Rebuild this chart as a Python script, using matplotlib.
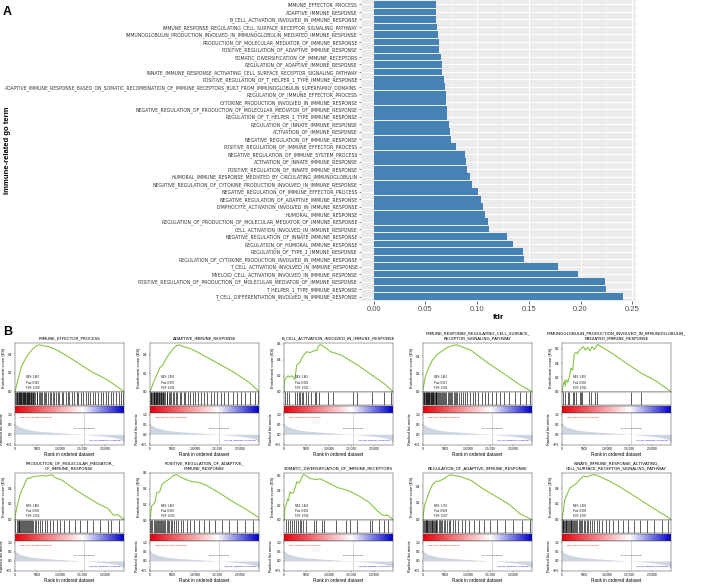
import matplotlib
matplotlib.use('Agg')
import matplotlib.pyplot as plt
import numpy as np
from matplotlib import font_manager as fm
from matplotlib.colors import LinearSegmentedColormap

# ---- panel A data ----
go_terms = [
    "IMMUNE_EFFECTOR_PROCESS",
    "ADAPTIVE_IMMUNE_RESPONSE",
    "B_CELL_ACTIVATION_INVOLVED_IN_IMMUNE_RESPONSE",
    "IMMUNE_RESPONSE_REGULATING_CELL_SURFACE_RECEPTOR_SIGNALING_PATHWAY",
    "IMMUNOGLOBULIN_PRODUCTION_INVOLVED_IN_IMMUNOGLOBULIN_MEDIATED_IMMUNE_RESPONSE",
    "PRODUCTION_OF_MOLECULAR_MEDIATOR_OF_IMMUNE_RESPONSE",
    "POSITIVE_REGULATION_OF_ADAPTIVE_IMMUNE_RESPONSE",
    "SOMATIC_DIVERSIFICATION_OF_IMMUNE_RECEPTORS",
    "REGULATION_OF_ADAPTIVE_IMMUNE_RESPONSE",
    "INNATE_IMMUNE_RESPONSE_ACTIVATING_CELL_SURFACE_RECEPTOR_SIGNALING_PATHWAY",
    "POSITIVE_REGULATION_OF_T_HELPER_1_TYPE_IMMUNE_RESPONSE",
    "ADAPTIVE_IMMUNE_RESPONSE_BASED_ON_SOMATIC_RECOMBINATION_OF_IMMUNE_RECEPTORS_BUILT_FROM_IMMUNOGLOBULIN_SUPERFAMILY_DOMAINS",
    "REGULATION_OF_IMMUNE_EFFECTOR_PROCESS",
    "CYTOKINE_PRODUCTION_INVOLVED_IN_IMMUNE_RESPONSE",
    "NEGATIVE_REGULATION_OF_PRODUCTION_OF_MOLECULAR_MEDIATOR_OF_IMMUNE_RESPONSE",
    "REGULATION_OF_T_HELPER_1_TYPE_IMMUNE_RESPONSE",
    "REGULATION_OF_INNATE_IMMUNE_RESPONSE",
    "ACTIVATION_OF_IMMUNE_RESPONSE",
    "NEGATIVE_REGULATION_OF_IMMUNE_RESPONSE",
    "POSITIVE_REGULATION_OF_IMMUNE_EFFECTOR_PROCESS",
    "NEGATIVE_REGULATION_OF_IMMUNE_SYSTEM_PROCESS",
    "ACTIVATION_OF_INNATE_IMMUNE_RESPONSE",
    "POSITIVE_REGULATION_OF_INNATE_IMMUNE_RESPONSE",
    "HUMORAL_IMMUNE_RESPONSE_MEDIATED_BY_CIRCULATING_IMMUNOGLOBULIN",
    "NEGATIVE_REGULATION_OF_CYTOKINE_PRODUCTION_INVOLVED_IN_IMMUNE_RESPONSE",
    "NEGATIVE_REGULATION_OF_IMMUNE_EFFECTOR_PROCESS",
    "NEGATIVE_REGULATION_OF_ADAPTIVE_IMMUNE_RESPONSE",
    "LYMPHOCYTE_ACTIVATION_INVOLVED_IN_IMMUNE_RESPONSE",
    "HUMORAL_IMMUNE_RESPONSE",
    "REGULATION_OF_PRODUCTION_OF_MOLECULAR_MEDIATOR_OF_IMMUNE_RESPONSE",
    "CELL_ACTIVATION_INVOLVED_IN_IMMUNE_RESPONSE",
    "NEGATIVE_REGULATION_OF_INNATE_IMMUNE_RESPONSE",
    "REGULATION_OF_HUMORAL_IMMUNE_RESPONSE",
    "REGULATION_OF_TYPE_2_IMMUNE_RESPONSE",
    "REGULATION_OF_CYTOKINE_PRODUCTION_INVOLVED_IN_IMMUNE_RESPONSE",
    "T_CELL_ACTIVATION_INVOLVED_IN_IMMUNE_RESPONSE",
    "MYELOID_CELL_ACTIVATION_INVOLVED_IN_IMMUNE_RESPONSE",
    "POSITIVE_REGULATION_OF_PRODUCTION_OF_MOLECULAR_MEDIATOR_OF_IMMUNE_RESPONSE",
    "T_HELPER_1_TYPE_IMMUNE_RESPONSE",
    "T_CELL_DIFFERENTIATION_INVOLVED_IN_IMMUNE_RESPONSE",
]
fdr = [0.060, 0.0603, 0.0606, 0.0614, 0.0620, 0.0630, 0.0636, 0.0652, 0.0660, 0.0665,
       0.0680, 0.0687, 0.0700, 0.0702, 0.0706, 0.0710, 0.0725, 0.0735, 0.0744, 0.0800,
       0.0880, 0.0895, 0.0902, 0.0935, 0.0950, 0.1010, 0.1040, 0.1060, 0.1080, 0.1110,
       0.1120, 0.1290, 0.1350, 0.1440, 0.1450, 0.1780, 0.1975, 0.2236, 0.2250, 0.2415]

# ---- panel B data (ranks in units of 100 genes) ----
n_genes = 243
zero_rank = 154.72
metric_rank = [0, 3, 10, 20, 35, 50, 75, 100, 125, 154.72, 180, 205, 225, 235, 243]
metric_val = [0.62, 0.48, 0.38, 0.30, 0.22, 0.17, 0.12, 0.08, 0.04, 0.0, -0.05, -0.11, -0.18, -0.25, -0.40]

gsea_titles = [
    "IMMUNE_EFFECTOR_PROCESS",
    "ADAPTIVE_IMMUNE_RESPONSE",
    "B_CELL_ACTIVATION_INVOLVED_IN_IMMUNE_RESPONSE",
    "IMMUNE_RESPONSE_REGULATING_CELL_SURFACE_\nRECEPTOR_SIGNALING_PATHWAY",
    "IMMUNOGLOBULIN_PRODUCTION_INVOLVED_IN_IMMUNOGLOBULIN_\nMEDIATED_IMMUNE_RESPONSE",
    "PRODUCTION_OF_MOLECULAR_MEDIATOR_\nOF_IMMUNE_RESPONSE",
    "POSITIVE_REGULATION_OF_ADAPTIVE_\nIMMUNE_RESPONSE",
    "SOMATIC_DIVERSIFICATION_OF_IMMUNE_RECEPTORS",
    "REGULATION_OF_ADAPTIVE_IMMUNE_RESPONSE",
    "INNATE_IMMUNE_RESPONSE_ACTIVATING_\nCELL_SURFACE_RECEPTOR_SIGNALING_PATHWAY",
]
nes = ["1.887", "1.854", "1.862", "1.862", "1.890", "1.882", "1.863", "1.829", "1.798", "1.803"]
pval = ["0.010", "0.007", "0.008", "0.011", "0.001", "0.008", "0.010", "0.001", "0.008", "0.004"]
fdr_txt = ["0.060", "0.061", "0.061", "0.061", "0.062", "0.063", "0.063", "0.066", "0.067", "0.067"]

es_x = [
    [0, 7.3, 14.6, 25.5, 36.5, 47.4, 54.7, 62, 76.6, 94.9, 113.1, 142.3, 171.5, 200.7, 222.6, 243],
    [0, 7, 15, 22, 29, 37, 44, 52, 59, 65, 75, 90, 110, 147, 184, 221, 243],
    [0, 1, 3.8, 9.1, 12.9, 16.7, 20.5, 24.3, 28.1, 31.9, 35.7, 39.5, 47.1, 50.9, 58.5, 66.1, 73.7,
     77.5, 81.3, 92.6, 104, 126.8, 164.8, 202.8, 225.5, 243],
    [0, 5.2, 12.7, 20.2, 31.5, 42.7, 54, 65.2, 75, 85, 106, 143, 181, 218, 243],
    [0, 3, 5.2, 7.4, 8.9, 12.6, 16.3, 20.1, 23.8, 27.5, 31.2, 34.9, 38.6, 42.4, 47.6, 52, 57.2,
     62.4, 66.9, 72.1, 79.5, 113, 142.7, 176.1, 209.6, 243],
    [0, 1, 5.2, 10.3, 14.7, 19.9, 25, 29.5, 32.4, 38.3, 45.7, 53, 60.4, 67.7, 75.1, 82.5, 89.8,
     104.6, 126.7, 156.1, 185.6, 207.7, 218.7, 229.7, 243],
    [0, 3.7, 7.5, 11.2, 15, 18.7, 22.4, 26.2, 29.9, 37.4, 44.9, 52.3, 59.8, 67.3, 78.5, 93.5,
     108.4, 123.4, 153.3, 183.2, 213.1, 243],
    [0, 2.3, 5.4, 7.7, 10, 13.1, 17.7, 20.8, 25.5, 28.5, 32.4, 36.3, 40.9, 44, 48.6, 54, 61.7,
     69.4, 81, 96.4, 119.6, 142.7, 165.9, 189, 208.3, 219.9, 231.4, 243],
    [0, 1, 3.9, 7.7, 11.6, 15.4, 19.3, 23.1, 29.3, 34.7, 38.6, 46.3, 54, 61.7, 69.4, 81, 92.6,
     108, 131.1, 162, 192.9, 216, 231.4, 243],
    [0, 1, 6.1, 12.2, 17.5, 25.1, 32.7, 40.2, 47.8, 55.4, 63, 70.6, 78.2, 89.6, 104.8, 127.6,
     158, 188.3, 218.7, 233.9, 243],
]
es_y = [
    [0, 0.14, 0.27, 0.37, 0.44, 0.49, 0.50, 0.49, 0.48, 0.44, 0.39, 0.30, 0.21, 0.14, 0.07, 0.0],
    [0, 0.09, 0.18, 0.26, 0.29, 0.37, 0.42, 0.47, 0.50, 0.51, 0.49, 0.47, 0.42, 0.32, 0.22, 0.10, 0.0],
    [0, 0.13, 0.17, 0.20, 0.18, 0.20, 0.18, 0.15, 0.33, 0.35, 0.37, 0.42, 0.48, 0.50, 0.49, 0.51,
     0.52, 0.58, 0.59, 0.55, 0.50, 0.46, 0.33, 0.18, 0.09, 0.0],
    [0.02, 0.17, 0.27, 0.35, 0.42, 0.46, 0.50, 0.52, 0.53, 0.51, 0.47, 0.33, 0.20, 0.07, 0.0],
    [0, 0.10, 0.15, 0.08, 0.17, 0.13, 0.20, 0.33, 0.30, 0.53, 0.55, 0.53, 0.58, 0.60, 0.63, 0.58,
     0.62, 0.57, 0.63, 0.59, 0.66, 0.53, 0.40, 0.26, 0.15, 0.0],
    [0, 0.07, 0.18, 0.30, 0.37, 0.43, 0.50, 0.53, 0.52, 0.54, 0.55, 0.55, 0.56, 0.55, 0.56, 0.57,
     0.53, 0.50, 0.41, 0.30, 0.20, 0.14, 0.06, 0.06, 0.0],
    [0.01, 0.18, 0.20, 0.23, 0.35, 0.35, 0.37, 0.45, 0.47, 0.50, 0.53, 0.57, 0.58, 0.55, 0.52,
     0.49, 0.48, 0.45, 0.35, 0.24, 0.14, 0.03],
    [0, 0.17, 0.21, 0.28, 0.26, 0.38, 0.36, 0.37, 0.45, 0.52, 0.50, 0.53, 0.60, 0.62, 0.61, 0.58,
     0.56, 0.55, 0.56, 0.51, 0.44, 0.40, 0.33, 0.24, 0.12, 0.06, 0.06, 0.0],
    [0, 0.07, 0.18, 0.24, 0.30, 0.35, 0.40, 0.43, 0.46, 0.46, 0.47, 0.49, 0.52, 0.54, 0.53, 0.52,
     0.50, 0.47, 0.38, 0.28, 0.18, 0.07, 0.03, 0.0],
    [0, 0.03, 0.25, 0.33, 0.40, 0.43, 0.46, 0.51, 0.55, 0.54, 0.56, 0.57, 0.56, 0.53, 0.49, 0.42,
     0.31, 0.20, 0.09, 0.04, 0.0],
]
hits = [
    [1, 2, 4, 5, 6, 8, 9, 11, 12, 13, 14, 16, 17, 18, 19, 21, 22, 23, 24, 26, 27, 28, 29, 31, 32,
     33, 35, 36, 38, 40, 41, 43, 45, 48, 50, 53, 55, 58, 61, 64, 67, 70, 73, 77, 80, 84, 88, 91,
     95, 99, 104, 108, 113, 118, 121, 127, 132, 138, 141, 147, 152, 158, 163, 167, 174, 179, 186,
     191, 197, 203, 208, 214, 219, 226, 231, 237, 241],
    [1, 2, 3, 5, 6, 8, 9, 10, 11, 13, 14, 15, 16, 18, 19, 20, 22, 24, 25, 27, 28, 30, 32, 34, 37,
     39, 42, 44, 47, 51, 54, 57, 61, 66, 70, 75, 79, 85, 90, 96, 101, 108, 114, 121, 127, 135,
     142, 150, 158, 166, 175, 184, 193, 203, 212, 222, 233, 240],
    [3, 6, 11, 25, 29, 33, 36, 40, 43, 50, 54, 61, 68, 72, 77, 98, 109, 153, 162, 197, 224, 238],
    [1, 2, 3, 4, 6, 7, 8, 9, 11, 12, 13, 14, 16, 17, 18, 19, 21, 22, 23, 25, 26, 28, 29, 30, 32,
     34, 36, 38, 40, 43, 45, 47, 50, 52, 55, 57, 60, 63, 65, 68, 71, 74, 76, 80, 84, 89, 94, 99,
     105, 111, 116, 123, 131, 138, 146, 153, 162, 171, 181, 192, 204, 216, 229, 239],
    [3, 7, 13, 16, 25, 27, 31, 40, 42, 45, 61, 65, 74, 78, 154, 176],
    [1, 4, 6, 8, 10, 12, 14, 16, 18, 20, 22, 24, 26, 28, 31, 33, 36, 38, 41, 44, 47, 51, 55, 60,
     66, 72, 79, 85, 93, 101, 110, 121, 133, 146, 160, 175, 190, 207, 215, 232],
    [1, 3, 5, 8, 11, 13, 15, 18, 20, 22, 25, 27, 29, 31, 34, 37, 40, 43, 46, 50, 53, 57, 62, 68,
     74, 82, 90, 99, 109, 120, 132, 145, 160, 177, 194, 212, 230],
    [4, 8, 13, 18, 23, 27, 31, 35, 39, 42, 50, 66, 72, 85, 89, 116, 139, 147, 162, 191, 197, 212,
     224, 231],
    [1, 2, 4, 6, 7, 9, 10, 12, 14, 15, 17, 19, 20, 22, 24, 26, 28, 30, 32, 35, 37, 40, 43, 46, 49,
     53, 57, 61, 66, 72, 78, 86, 94, 103, 113, 124, 137, 150, 166, 183, 201, 221, 238],
    [1, 2, 3, 5, 7, 8, 10, 12, 14, 15, 17, 19, 21, 23, 25, 27, 29, 32, 34, 37, 40, 42, 45, 48, 52,
     55, 59, 63, 67, 72, 77, 83, 90, 97, 105, 114, 124, 135, 147, 160, 174, 189, 205, 222, 237],
]

names = {f.name for f in fm.fontManager.ttflist}
narrow = 'Liberation Sans Narrow' if 'Liberation Sans Narrow' in names else 'DejaVu Sans'
plt.rcParams['font.family'] = ['Liberation Sans', 'DejaVu Sans']

W, H = 709, 584
fig = plt.figure(figsize=(W / 100, H / 100), dpi=100)


def box(x0, y0, w, h):
    # pixel box (top-left origin) -> figure fraction
    return [x0 / W, 1 - (y0 + h) / H, w / W, h / H]


# ================= panel A =================
axA = fig.add_axes(box(361, 0, 275, 301))
axA.set_facecolor('#EBEBEB')
n = len(go_terms)
ypos = np.arange(n)[::-1]
axA.barh(ypos, fdr, height=0.9, color='#4682B4', zorder=3)
axA.set_xlim(-0.0121, 0.2536)
axA.set_ylim(-0.6, n - 0.4)
axA.set_xticks([0, 0.05, 0.10, 0.15, 0.20, 0.25])
axA.set_xticklabels(['0.00', '0.05', '0.10', '0.15', '0.20', '0.25'])
axA.set_xticks([0.025, 0.075, 0.125, 0.175, 0.225], minor=True)
axA.set_yticks(ypos)
axA.set_yticklabels(go_terms, fontsize=3.3, family=narrow, color='#333333')
axA.grid(True, which='major', color='white', lw=0.7, zorder=0)
axA.grid(True, which='minor', axis='x', color='white', lw=0.35, zorder=0)
axA.set_axisbelow(True)
for s in axA.spines.values():
    s.set_visible(False)
axA.tick_params(axis='x', labelsize=5.5, labelcolor='#4D4D4D', length=2, width=0.5,
                color='#333333', pad=1.5)
axA.tick_params(axis='y', length=1.5, width=0.4, color='#333333', pad=1)
axA.tick_params(which='minor', length=0)
axA.set_xlabel('fdr', fontsize=6, fontweight='bold', labelpad=1)
fig.text(0.011, 1 - 150 / H, 'Immune-related go term', rotation=90, fontsize=5.5,
         fontweight='bold', ha='center', va='center')
fig.text(0.004, 1 - 12 / H, 'A', fontsize=9, fontweight='bold', va='center')
fig.text(0.004, 1 - 332 / H, 'B', fontsize=9, fontweight='bold', va='center')

# shrink any category label that would run past the left edge
fig.canvas.draw()
rend = fig.canvas.get_renderer()
for lab in axA.get_yticklabels():
    bb = lab.get_window_extent(rend)
    if bb.x0 < 5:
        avail = bb.x1 - 5
        lab.set_fontsize(lab.get_fontsize() * avail / bb.width)

# ================= panel B =================
cmap = LinearSegmentedColormap.from_list('rw_b', [(0, '#e8000b'), (0.62, '#ffffff'), (1, '#0000cc')])
col_x = [15, 150, 284, 423, 562]
row_y = [343, 473]
aw = 109
es_h = [49, 47]
rank_h = [32, 30]

for k in range(10):
    r, c = divmod(k, 5)
    x0 = col_x[c]
    top = row_y[r]
    axES = fig.add_axes(box(x0, top, aw, es_h[r]))
    axHit = fig.add_axes(box(x0, top + es_h[r], aw, 13))
    axCb = fig.add_axes(box(x0, top + es_h[r] + 14, aw, 7))
    axR = fig.add_axes(box(x0, top + es_h[r] + 21, aw, rank_h[r]))

    # running enrichment score
    axES.plot(es_x[k], es_y[k], color='#88C544', lw=0.8)
    axES.set_xlim(0, n_genes)
    axES.set_ylim(min(es_y[k]) - 0.005, max(es_y[k]) + 0.02)
    axES.set_yticks([v for v in (0.0, 0.2, 0.4, 0.6) if v <= max(es_y[k]) + 0.02])
    axES.set_xticks([])
    axES.tick_params(labelsize=2.3, length=1, width=0.3, pad=0.8)
    axES.set_ylabel('Enrichment score (ES)', fontsize=2.9, labelpad=1.5)
    axES.set_title(gsea_titles[k], fontsize=3.0, family=narrow, pad=2.5, linespacing=1.5)
    for j, t in enumerate(['NES: ' + nes[k], 'Pval: ' + pval[k], 'FDR: ' + fdr_txt[k]]):
        axES.text(0.1, 0.30 - 0.11 * j, t, fontsize=1.8, transform=axES.transAxes, va='center')

    # hits barcode
    axHit.vlines(hits[k], 0, 1, color='black', lw=0.45)
    axHit.set_xlim(0, n_genes)
    axHit.set_ylim(0, 1)
    axHit.set_xticks([])
    axHit.set_yticks([])

    # gradient colour bar
    axCb.imshow(np.linspace(0, 1, 256)[None, :], aspect='auto', cmap=cmap,
                extent=[0, n_genes, 0, 1])
    axCb.set_xticks([])
    axCb.set_yticks([])

    # ranked list metric
    axR.fill_between(metric_rank, metric_val, 0, color='#CDD5E0', lw=0)
    axR.axvline(zero_rank, color='#BBBBBB', lw=0.4)
    axR.set_xlim(0, n_genes)
    axR.set_ylim(-0.55, 1.1)
    axR.set_yticks([-0.5, 0.0, 0.5, 1.0])
    axR.set_xticks([0, 50, 100, 150, 200])
    axR.set_xticklabels(['0', '5000', '10 000', '15 000', '20 000'])
    axR.tick_params(labelsize=2.3, length=1, width=0.3, pad=0.8)
    axR.set_ylabel('Ranked list metric', fontsize=2.9, labelpad=1.5)
    axR.set_xlabel('Rank in ordered dataset', fontsize=3.3, labelpad=0.5)
    axR.text(0.05, 0.86, 'high_risk (Positively Correlated)', color='red', fontsize=1.6,
             transform=axR.transAxes, va='center')
    axR.text(zero_rank, 0.3, 'Zero score at 15472', fontsize=1.6, ha='center', va='center')
    axR.text(0.97, 0.15, 'low_risk (Negatively Correlated)', color='blue', fontsize=1.6,
             transform=axR.transAxes, ha='right', va='center')

    for ax in (axES, axHit, axCb, axR):
        for s in ax.spines.values():
            s.set_linewidth(0.35)
            s.set_color('#444444')

fig.savefig('out.png', dpi=100)
